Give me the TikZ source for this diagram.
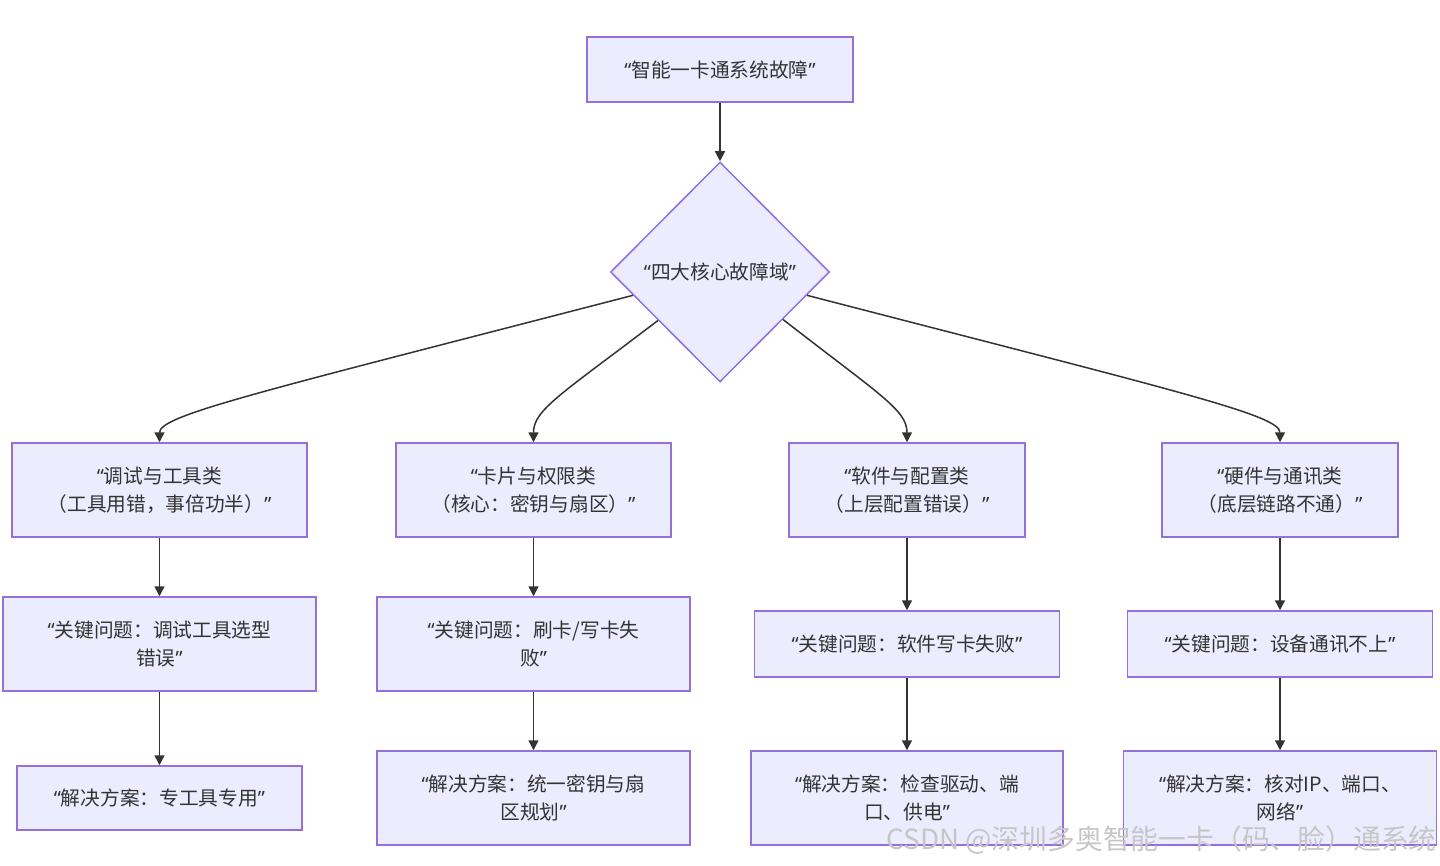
\documentclass[tikz,border=0pt]{standalone}
\usepackage{fontspec}
\setmainfont{Noto Sans CJK SC}
\newfontfamily\latinq{Noto Sans}
\usepackage{xcolor}
\usepackage{tikz}
\usetikzlibrary{shapes.geometric}
\usetikzlibrary{arrows.meta}
\definecolor{boxfill}{HTML}{ECECFF}
\definecolor{boxline}{HTML}{9370DB}
\definecolor{inkgray}{HTML}{333333}
\newcommand{\qopen}{{\latinq “}}
\newcommand{\qclose}{{\latinq ”}}

\begin{document}
\begin{tikzpicture}[x=0.5pt,y=-0.5pt,
        box/.style={draw=boxline,fill=boxfill,line width=0.75pt,text=inkgray,align=center,inner sep=0pt,
            font=\fontsize{9.85pt}{14pt}\selectfont},
        link/.style={draw=inkgray,line width=0.75pt,-{Triangle[length=5pt,width=5pt]}}]
        \useasboundingbox (0,0) rectangle (1440,866);

        % top and diamond
        \node[box,minimum width=133pt,minimum height=32.5pt] (fault) at (720,69.5) {\qopen 智能一卡通系统故障\qclose};
        \node[box,shape=diamond,minimum width=109.5pt,minimum height=110pt] (domain) at (720,272) {\qopen 四大核心故障域\qclose};

        % categories
        \node[box,minimum width=147.5pt,minimum height=47pt] (tool) at (159.5,490) {\qopen 调试与工具类\\（工具用错，事倍功半）\qclose};
        \node[box,minimum width=137.5pt,minimum height=47pt] (card) at (533.5,490) {\qopen 卡片与权限类\\（核心：密钥与扇区）\qclose};
        \node[box,minimum width=118pt,minimum height=47pt] (soft) at (907,490) {\qopen 软件与配置类\\（上层配置错误）\qclose};
        \node[box,minimum width=118pt,minimum height=47pt] (hard) at (1280,490) {\qopen 硬件与通讯类\\（底层链路不通）\qclose};

        % key problems
        \node[box,minimum width=156.5pt,minimum height=47pt] (toolkey) at (159.5,644) {\qopen 关键问题：调试工具选型\\错误\qclose};
        \node[box,minimum width=156.5pt,minimum height=47pt] (cardkey) at (533.5,644) {\qopen 关键问题：刷卡/写卡失\\败\qclose};
        \node[box,minimum width=152.5pt,minimum height=33pt] (softkey) at (907,644) {\qopen 关键问题：软件写卡失败\qclose};
        \node[box,minimum width=152.5pt,minimum height=33pt] (hardkey) at (1280,644) {\qopen 关键问题：设备通讯不上\qclose};

        % solutions
        \node[box,minimum width=142.5pt,minimum height=32pt] (toolfix) at (159.5,798) {\qopen 解决方案：专工具专用\qclose};
        \node[box,minimum width=156.5pt,minimum height=47pt] (cardfix) at (533.5,798) {\qopen 解决方案：统一密钥与扇\\区规划\qclose};
        \node[box,minimum width=156pt,minimum height=47pt] (softfix) at (907,798) {\qopen 解决方案：检查驱动、端\\口、供电\qclose};
        \node[box,minimum width=156.5pt,minimum height=47pt] (hardfix) at (1280,798) {\qopen 解决方案：核对IP、端口、\\网络\qclose};

        \draw[link] (fault)--(domain);
        \draw[link] (domain.195) .. controls (260,392) and (159.5,415) .. (tool.north);
        \draw[link] (domain.218) .. controls (560,395) and (533.5,410) .. (card.north);
        \draw[link] (domain.323) .. controls (880,395) and (907,410) .. (soft.north);
        \draw[link] (domain.345) .. controls (1180,392) and (1280,415) .. (hard.north);

        \draw[link] (tool)--(toolkey);
        \draw[link] (card)--(cardkey);
        \draw[link] (soft)--(softkey);
        \draw[link] (hard)--(hardkey);
        \draw[link] (toolkey)--(toolfix);
        \draw[link] (cardkey)--(cardfix);
        \draw[link] (softkey)--(softfix);
        \draw[link] (hardkey)--(hardfix);

        % watermark
        \node[text=gray!45,anchor=east,inner sep=0pt,font=\fontsize{13.9pt}{16pt}\selectfont] (mark) at (1437,840) {CSDN @深圳多奥智能一卡（码、脸）通系统};
    \end{tikzpicture}
\end{document}
